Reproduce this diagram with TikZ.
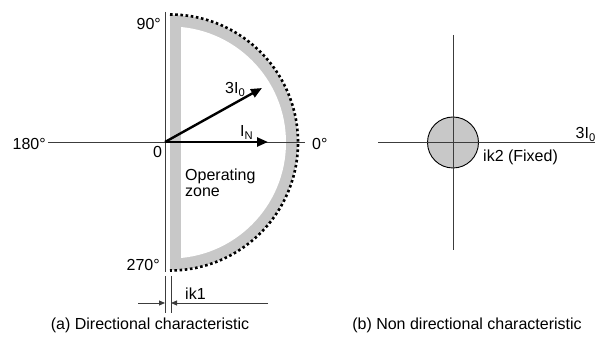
\documentclass[tikz,border=0pt]{standalone}
\usepackage{fontspec}
\setmainfont{Liberation Sans}
\usetikzlibrary{arrows.meta}
\definecolor{bandgray}{RGB}{200,200,200}
\definecolor{axisgray}{RGB}{60,60,60}
\tikzset{
  axis/.style={draw=axisgray, line width=0.9pt},
  vec/.style={line width=2.4pt, -{Triangle[length=11pt,width=9pt]}},
  dimarrow/.style={draw=axisgray, line width=0.9pt, -{Triangle[length=6pt,width=5pt]}},
  dotarc/.style={line width=2.6pt, dash pattern=on 2.6pt off 2.6pt},
  lbl/.style={inner sep=0pt}
}
\begin{document}
\begin{tikzpicture}[x=1pt,y=1pt, font=\fontsize{16}{16}\selectfont]
\useasboundingbox (0,0) rectangle (603,340);
% ---------- (a) directional ----------
\coordinate (C) at (170,197.5);
\fill[bandgray] (170,325) -- (170,70) arc[start angle=-90, end angle=90, radius=127.5] -- cycle;
\begin{scope}
  \clip (181,0) rectangle (400,340);
  \fill[white] (C) circle (116);
\end{scope}
\coordinate (O) at (165,198);
\coordinate (axL) at (48,198);
\coordinate (axR) at (305,198);
\coordinate (vT) at (165,328);
\coordinate (vB) at (165,68);
\draw[axis] (axL) -- (axR);
\draw[axis] (vT) -- (vB);
\draw[dotarc] (170,325.5) arc[start angle=90, end angle=-90, radius=128];
\coordinate (t3) at (262,252);
\coordinate (tN) at (268,198);
\draw[vec] (O) -- (t3);
\draw[vec] (O) -- (tN);
% dimension ik1
\coordinate (e1t) at (165,64); \coordinate (e1b) at (165,27);
\coordinate (e2t) at (171,64); \coordinate (e2b) at (171,27);
\draw[axis] (e1t) -- (e1b);
\draw[axis] (e2t) -- (e2b);
\coordinate (d1s) at (138,37); \coordinate (d1e) at (165,37);
\coordinate (d2s) at (268,37); \coordinate (d2e) at (171,37);
\draw[dimarrow] (d1s) -- (d1e);
\draw[dimarrow] (d2s) -- (d2e);
\node[lbl, anchor=east] (l90) at (161,316) {90°};
\node[lbl, anchor=east] (l270) at (160,75.5) {270°};
\node[lbl, anchor=east] (l180) at (46,196) {180°};
\node[lbl, anchor=west] (l0d) at (312,196) {0°};
\node[lbl] (l0) at (157.5,188) {0};
\node[lbl, anchor=base west] (l3I) at (225,246) {3I\textsubscript{0}};
\node[lbl, anchor=base west] (lIN) at (240,203) {I\textsubscript{N}};
\node[lbl, anchor=north west, align=left] (lop) at (185,171) {Operating\\zone};
\node[lbl, anchor=base west] (lik1) at (185,40) {ik1};
\node[lbl, anchor=base] (capa) at (150,10) {(a) Directional characteristic};
% ---------- (b) non directional ----------
\coordinate (C2) at (453,197.5);
\fill[bandgray, draw=black, line width=0.9pt] (C2) circle (25.5);
\coordinate (hL) at (378,198); \coordinate (hR) at (595,198);
\coordinate (vT2) at (453,305); \coordinate (vB2) at (453,90);
\draw[axis] (hL) -- (hR);
\draw[axis] (vT2) -- (vB2);
\node[lbl, anchor=base east] (r3I) at (596,201) {3I\textsubscript{0}};
\node[lbl, anchor=base west] (lik2) at (483,178) {ik2 (Fixed)};
\node[lbl, anchor=base] (capb) at (467,10) {(b) Non directional characteristic};
\end{tikzpicture}
\end{document}
